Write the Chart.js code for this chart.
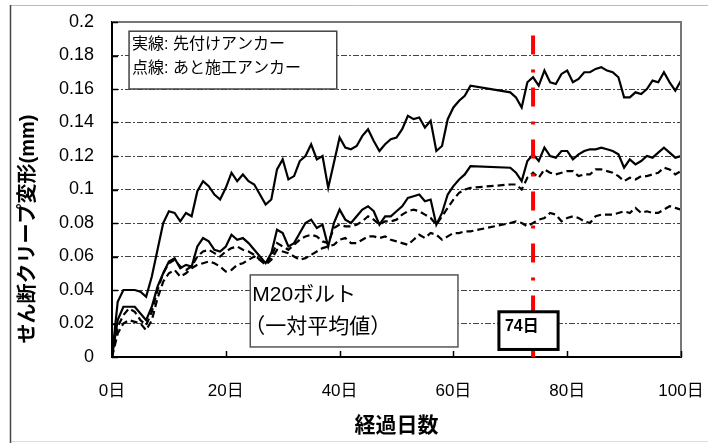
<!DOCTYPE html>
<html>
<head>
<meta charset="utf-8">
<script src="https://cdn.jsdelivr.net/npm/chart.js"></script>
<style>
  html, body { margin: 0; padding: 0; background: #fff; }
  canvas { display: block; }
</style>
</head>
<body>
<canvas id="chart" width="708" height="443"></canvas>
<script>
// elapsed days (no readings between day 63 and day 70)
const days = [
  0, 1, 2, 3, 4, 5, 6, 7, 8, 9, 10, 11, 12, 13, 14, 15, 16, 17, 18, 19,
  20, 21, 22, 23, 24, 25, 26, 27, 28, 29, 30, 31, 32, 33, 34, 35, 36, 37, 38, 39,
  40, 41, 42, 43, 44, 45, 46, 47, 48, 49, 50, 51, 52, 53, 54, 55, 56, 57, 58, 59,
  60, 61, 62, 63,
  70, 71, 72, 73, 74, 75, 76, 77, 78, 79, 80, 81, 82, 83, 84, 85, 86, 87, 88, 89,
  90, 91, 92, 93, 94, 95, 96, 97, 98, 99, 100
];

// solid lines: 先付けアンカー
const castInUpper = [
  0, 0.033, 0.04, 0.04, 0.04, 0.039, 0.036, 0.048, 0.064, 0.08, 0.087, 0.086, 0.081, 0.086, 0.084, 0.099, 0.105, 0.102, 0.097, 0.094,
  0.101, 0.11, 0.105, 0.109, 0.105, 0.103, 0.097, 0.091, 0.094, 0.112, 0.118, 0.106, 0.108, 0.117, 0.12, 0.127, 0.118, 0.12, 0.101, 0.116,
  0.131, 0.125, 0.124, 0.126, 0.132, 0.136, 0.129, 0.123, 0.127, 0.13, 0.131, 0.136, 0.144, 0.142, 0.143, 0.137, 0.141, 0.123, 0.126, 0.142,
  0.149, 0.153, 0.156, 0.162,
  0.158, 0.155, 0.149, 0.164, 0.167, 0.162, 0.171, 0.164, 0.163, 0.169, 0.171, 0.164, 0.166, 0.17, 0.17, 0.172, 0.173, 0.171, 0.17, 0.167,
  0.155, 0.155, 0.158, 0.157, 0.16, 0.165, 0.164, 0.17, 0.164, 0.159, 0.165
];
const castInLower = [
  0, 0.022, 0.03, 0.03, 0.03, 0.026, 0.022, 0.03, 0.042, 0.05, 0.057, 0.059, 0.053, 0.055, 0.054, 0.066, 0.071, 0.069, 0.064, 0.063,
  0.066, 0.073, 0.07, 0.071, 0.068, 0.064, 0.06, 0.056, 0.062, 0.076, 0.074, 0.066, 0.068, 0.074, 0.08, 0.082, 0.077, 0.079, 0.066, 0.08,
  0.088, 0.082, 0.08, 0.084, 0.088, 0.09, 0.087, 0.079, 0.084, 0.084, 0.087, 0.09, 0.095, 0.096, 0.097, 0.093, 0.094, 0.079, 0.086, 0.097,
  0.102, 0.106, 0.109, 0.114,
  0.113, 0.11, 0.105, 0.117, 0.121, 0.117, 0.125, 0.12, 0.119, 0.123, 0.123, 0.118, 0.121, 0.123, 0.124, 0.124, 0.125, 0.124, 0.123, 0.121,
  0.113, 0.118, 0.115, 0.117, 0.12, 0.119, 0.122, 0.125, 0.122, 0.119, 0.12
];

// dashed lines: あと施工アンカー
const postUpper = [
  0, 0.018, 0.025, 0.029, 0.027, 0.022, 0.019, 0.027, 0.04, 0.05, 0.056, 0.058, 0.054, 0.052, 0.054, 0.06, 0.063, 0.064, 0.062, 0.06,
  0.063, 0.065, 0.066, 0.064, 0.063, 0.061, 0.058, 0.056, 0.06, 0.068, 0.066, 0.064, 0.067, 0.07, 0.072, 0.073, 0.072, 0.069, 0.068, 0.077,
  0.079, 0.078, 0.078, 0.079, 0.081, 0.084, 0.082, 0.079, 0.081, 0.081, 0.082, 0.085, 0.087, 0.088, 0.087, 0.085, 0.083, 0.079, 0.084, 0.089,
  0.094, 0.098, 0.1, 0.101,
  0.103, 0.103, 0.1, 0.107, 0.11, 0.107, 0.112, 0.11, 0.109, 0.11, 0.111, 0.111, 0.108, 0.109, 0.109, 0.112, 0.112, 0.111, 0.11, 0.108,
  0.105, 0.107, 0.106, 0.108, 0.108, 0.109, 0.11, 0.113, 0.112, 0.109, 0.111
];
const postLower = [
  0, 0.014, 0.02, 0.022, 0.021, 0.02, 0.016, 0.022, 0.035, 0.045, 0.05, 0.052, 0.048, 0.05, 0.053, 0.055, 0.056, 0.057, 0.056, 0.054,
  0.051, 0.052, 0.055, 0.056, 0.058, 0.06, 0.058, 0.055, 0.058, 0.064, 0.063, 0.062, 0.06, 0.058, 0.059, 0.061, 0.063, 0.065, 0.066, 0.067,
  0.07, 0.071, 0.068, 0.068, 0.07, 0.072, 0.072, 0.071, 0.072, 0.07, 0.069, 0.068, 0.067, 0.07, 0.073, 0.071, 0.074, 0.073, 0.07, 0.072,
  0.074, 0.074, 0.075, 0.075,
  0.08, 0.081, 0.08, 0.078, 0.08, 0.082, 0.083, 0.086, 0.085, 0.081, 0.083, 0.084, 0.083, 0.081, 0.08, 0.084, 0.085, 0.085, 0.085, 0.086,
  0.087, 0.086, 0.089, 0.086, 0.087, 0.086, 0.086, 0.088, 0.09, 0.089, 0.088
];

const xTickLabels = ['0日', '20日', '40日', '60日', '80日', '100日'];
const yTickLabels = ['0', '0.02', '0.04', '0.06', '0.08', '0.1', '0.12', '0.14', '0.16', '0.18', '0.2'];
const markerDay = 74;

const FONT = "'Liberation Sans', 'Noto Sans CJK JP', sans-serif";

function series(values, dashed) {
  return {
    data: days.map((d, i) => ({ x: d, y: values[i] })),
    borderColor: '#000',
    borderWidth: 2.2,
    borderDash: dashed ? [7, 4] : [],
    pointRadius: 0,
    tension: 0,
    fill: false
  };
}

// boxes, red marker line, frame and the y title
const overlay = {
  id: 'overlay',
  beforeDraw(chart) {
    const ctx = chart.ctx;
    ctx.save();
    ctx.fillStyle = '#fff';
    ctx.fillRect(0, 0, chart.width, chart.height);
    ctx.restore();
  },
  afterDatasetsDraw(chart) {
    const { ctx, chartArea: a, scales: { x, y } } = chart;
    ctx.save();

    // plot border top/right
    ctx.strokeStyle = '#777';
    ctx.lineWidth = 2;
    ctx.beginPath();
    ctx.moveTo(a.left, a.top);
    ctx.lineTo(a.right, a.top);
    ctx.lineTo(a.right, a.bottom);
    ctx.stroke();

    // inner tick marks
    ctx.strokeStyle = '#000';
    ctx.lineWidth = 1.5;
    y.ticks.forEach(t => {
      const py = Math.round(y.getPixelForValue(t.value)) + 0.5;
      ctx.beginPath(); ctx.moveTo(a.left, py); ctx.lineTo(a.left + 6, py); ctx.stroke();
    });
    x.ticks.forEach(t => {
      const px = Math.round(x.getPixelForValue(t.value)) + 0.5;
      ctx.beginPath(); ctx.moveTo(px, a.bottom); ctx.lineTo(px, a.bottom - 6); ctx.stroke();
    });

    // red dash-dot line at day 74
    const mx = x.getPixelForValue(markerDay);
    ctx.strokeStyle = '#ff0000';
    ctx.lineWidth = 4;
    ctx.setLineDash([19, 15, 3, 15]);
    ctx.beginPath();
    ctx.moveTo(mx, y.getPixelForValue(0.192));
    ctx.lineTo(mx, a.bottom);
    ctx.stroke();
    ctx.setLineDash([]);

    const box = (x0, y0, x1, y1, color, lw) => {
      const l = x.getPixelForValue(x0), r = x.getPixelForValue(x1);
      const t = y.getPixelForValue(y0), b = y.getPixelForValue(y1);
      ctx.fillStyle = '#fff';
      ctx.fillRect(l, t, r - l, b - t);
      ctx.strokeStyle = color;
      ctx.lineWidth = lw;
      ctx.strokeRect(l, t, r - l, b - t);
      return { l, t, r, b };
    };

    ctx.textBaseline = 'middle';
    ctx.textAlign = 'left';

    // legend note
    let r = box(3, 0.1945, 39.5, 0.16, '#444', 1.5);
    ctx.fillStyle = '#000';
    ctx.font = '16px ' + FONT;
    ctx.fillText('実線: 先付けアンカー', r.l + 3, r.t + 13);
    ctx.fillText('点線: あと施工アンカー', r.l + 3, r.t + 37);

    // M20 note
    r = box(24.3, 0.049, 60.8, 0.006, '#555', 1.5);
    ctx.fillStyle = '#000';
    ctx.font = '21px ' + FONT;
    ctx.fillText('M20ボルト', r.l + 2, r.t + 20);
    ctx.fillText('（一対平均値）', r.l - 6, r.t + 52);

    // day 74 tag
    r = box(68, 0.027, 78.4, 0.0045, '#000', 3);
    ctx.fillStyle = '#000';
    ctx.font = 'bold 16px ' + FONT;
    ctx.fillText('74日', r.l + 6, r.t + 15);

    ctx.restore();
  },
  afterDraw(chart) {
    const ctx = chart.ctx;
    ctx.save();
    // outer frame
    ctx.lineWidth = 1;
    ctx.strokeStyle = '#bbb';
    ctx.beginPath();
    ctx.moveTo(chart.width, 5.5);
    ctx.lineTo(10.5, 5.5);
    ctx.stroke();
    ctx.strokeStyle = '#ddd';
    ctx.beginPath();
    ctx.moveTo(10.5, 441.5);
    ctx.lineTo(chart.width, 441.5);
    ctx.stroke();
    ctx.strokeStyle = '#444';
    ctx.lineWidth = 1.5;
    ctx.beginPath();
    ctx.moveTo(10.5, 5);
    ctx.lineTo(10.5, 443);
    ctx.stroke();
    // y axis title
    ctx.translate(28, 229);
    ctx.rotate(-Math.PI / 2);
    ctx.fillStyle = '#000';
    ctx.font = 'bold 20px ' + FONT;
    ctx.textAlign = 'center';
    ctx.textBaseline = 'middle';
    ctx.fillText('せん断クリープ変形(mm)', 0, 0);
    ctx.restore();
  }
};

const ctx = document.getElementById('chart').getContext('2d');
new Chart(ctx, {
  type: 'line',
  data: {
    datasets: [
      series(castInUpper, false),
      series(castInLower, false),
      series(postUpper, true),
      series(postLower, true)
    ]
  },
  options: {
    responsive: false,
    animation: false,
    devicePixelRatio: 1,
    layout: { padding: { top: 22, right: 27, bottom: 0, left: 0 } },
    plugins: {
      legend: { display: false },
      tooltip: { enabled: false }
    },
    scales: {
      x: {
        type: 'linear',
        min: 0,
        max: 100,
        ticks: {
          stepSize: 20,
          padding: 0,
          color: '#000',
          maxRotation: 0,
          autoSkip: false,
          font: { family: FONT, size: 17 },
          callback: (v, i) => xTickLabels[i]
        },
        grid: { display: false, drawTicks: true, tickLength: 24 },
        border: { display: true, color: '#000', width: 2 },
        title: {
          display: true,
          text: '経過日数',
          color: '#000',
          font: { family: FONT, size: 21, weight: 'bold' },
          padding: { top: 0, bottom: 4 }
        },
        afterFit: s => { s.height = 86; }
      },
      y: {
        min: 0,
        max: 0.2,
        ticks: {
          stepSize: 0.02,
          padding: 0,
          color: '#000',
          font: { family: FONT, size: 18 },
          callback: (v, i) => yTickLabels[i]
        },
        grid: { color: '#444', lineWidth: 1, drawTicks: true, tickLength: 18, tickColor: 'rgba(0,0,0,0)' },
        border: { display: true, color: '#000', width: 2, dash: [6, 2, 2, 2] },
        afterFit: s => { s.width = 112; }
      }
    }
  },
  plugins: [overlay]
});
</script>
</body>
</html>
